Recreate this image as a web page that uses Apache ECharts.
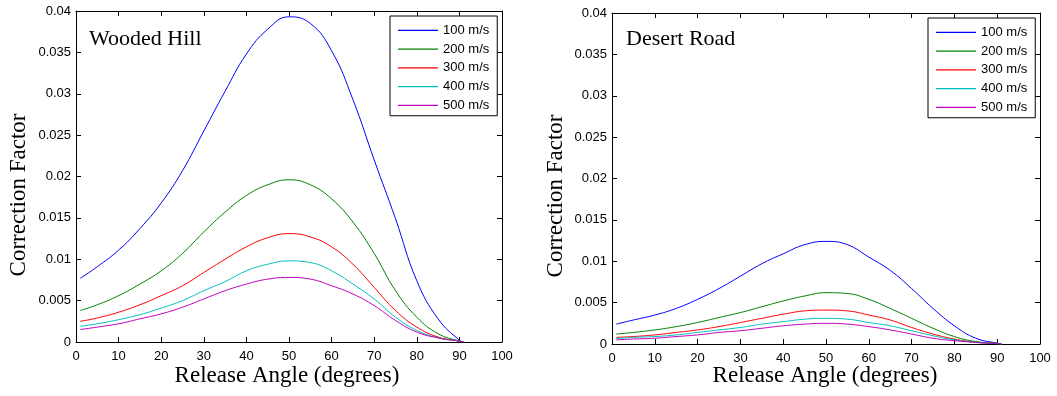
<!DOCTYPE html>
<html>
<head>
<meta charset="utf-8">
<script src="https://cdn.jsdelivr.net/npm/echarts@6/dist/echarts.min.js"></script>
<style>
html,body{margin:0;padding:0;background:#fff;}
#chart{width:1057px;height:396px;}
</style>
</head>
<body>
<div id="chart"></div>
<script>
// Release angle (degrees)
const angles = [1,5,10,15,20,25,30,35,40,45,50,55,60,65,70,75,80,85,90,91];
const speedNames = ['100 m/s','200 m/s','300 m/s','400 m/s','500 m/s'];
const xTicks = [0,10,20,30,40,50,60,70,80,90,100];
const yTicks = [0,0.005,0.01,0.015,0.02,0.025,0.03,0.035,0.04];

// Wooded Hill
const hill100 = [0.0077,0.0091,0.0111,0.0137,0.0168,0.0207,0.0255,0.0303,0.0348,0.0378,0.0393,0.0385,0.0352,0.0293,0.0220,0.0149,0.0074,0.0028,0.0002,0];
const hill200 = [0.0038,0.0045,0.0056,0.0070,0.0086,0.0107,0.0133,0.0157,0.0177,0.0190,0.0196,0.0190,0.0173,0.0145,0.0107,0.0062,0.0030,0.0010,0.0001,0];
const hill300 = [0.0025,0.0029,0.0036,0.0045,0.0056,0.0068,0.0084,0.0100,0.0115,0.0126,0.0131,0.0127,0.0115,0.0094,0.0066,0.0038,0.0018,0.0006,0.0001,0];
const hill400 = [0.0019,0.0022,0.0027,0.0033,0.0041,0.0050,0.0062,0.0073,0.0086,0.0094,0.0098,0.0096,0.0086,0.0070,0.0052,0.0030,0.0014,0.0005,0.0001,0];
const hill500 = [0.0015,0.0018,0.0022,0.0028,0.0034,0.0042,0.0052,0.0062,0.0070,0.0076,0.0078,0.0076,0.0068,0.0058,0.0044,0.0026,0.0012,0.0005,0.0001,0];

// Desert Road
const road100 = [0.0024,0.0029,0.0035,0.0043,0.0054,0.0067,0.0082,0.0097,0.0109,0.0120,0.0124,0.0120,0.0105,0.0089,0.0067,0.0043,0.0022,0.0007,0.0001,0];
const road200 = [0.0012,0.0014,0.0017,0.0021,0.0026,0.0032,0.0038,0.0045,0.0052,0.0058,0.0062,0.0061,0.0054,0.0043,0.0031,0.0019,0.0009,0.0003,0.0001,0];
const road300 = [0.0008,0.0009,0.0011,0.0014,0.0017,0.0021,0.0026,0.0031,0.0036,0.0040,0.0041,0.0040,0.0035,0.0029,0.0020,0.0012,0.0006,0.0002,0.00005,0];
const road400 = [0.00065,0.0008,0.0009,0.0011,0.0014,0.0017,0.0020,0.0024,0.0027,0.0030,0.0031,0.0030,0.0026,0.0022,0.0016,0.0010,0.0005,0.0002,0.00004,0];
const road500 = [0.0005,0.0006,0.0007,0.0009,0.0011,0.0014,0.0016,0.0019,0.0022,0.0024,0.0025,0.0024,0.0021,0.0017,0.0012,0.0007,0.0004,0.0002,0.00003,0];

const colors = ['#0000ff','#008000','#ff0000','#00bfbf','#bf00bf'];
const hillSets = [hill100,hill200,hill300,hill400,hill500];
const roadSets = [road100,road200,road300,road400,road500];

const SANS = '"Liberation Sans", Arial, sans-serif';
const SERIF = '"Liberation Serif", "Times New Roman", serif';

function pairs(vals){ return angles.map((a,i)=>[a, vals[i]]); }

function xAx(grid, pos){
  return {
    type:'value', gridIndex:grid, position:pos, min:xTicks[0], max:xTicks[xTicks.length-1], interval:10,
    axisLine:{show:true, onZero:false, lineStyle:{color:'#000', width:1}},
    axisTick:{show:true, inside:true, length:5, lineStyle:{color:'#000'}},
    axisLabel:{show:pos==='bottom', color:'#000', fontFamily:SANS, fontSize:13, margin:8},
    splitLine:{show:false}
  };
}
function yAx(grid, pos){
  return {
    type:'value', gridIndex:grid, position:pos, min:0, max:yTicks[yTicks.length-1], interval:0.005,
    axisLine:{show:true, onZero:false, lineStyle:{color:'#000', width:1}},
    axisTick:{show:true, inside:true, length:5, lineStyle:{color:'#000'}},
    axisLabel:{show:pos==='left', color:'#000', fontFamily:SANS, fontSize:13, margin:5,
      formatter:function(v){ return String(+v.toFixed(4)); }},
    splitLine:{show:false}
  };
}

const series = [];
speedNames.forEach((n,i)=>{
  series.push({name:n, type:'line', xAxisIndex:0, yAxisIndex:0, data:pairs(hillSets[i]),
    symbol:'none', smooth:0.45, lineStyle:{width:1, color:colors[i]}, itemStyle:{color:colors[i]}, animation:false});
});
speedNames.forEach((n,i)=>{
  series.push({name:n, type:'line', xAxisIndex:2, yAxisIndex:2, data:pairs(roadSets[i]),
    symbol:'none', smooth:0.45, lineStyle:{width:1, color:colors[i]}, itemStyle:{color:colors[i]}, animation:false});
});

function legend(left, top){
  return {
    data:speedNames.map(n=>({name:n, icon:'rect'})), orient:'vertical', left:left, top:top,
    itemWidth:40, itemHeight:1.3, itemGap:0,
    padding:[5,8,1,8], borderColor:'#000', borderWidth:1, backgroundColor:'#fff',
    textStyle:{color:'#000', fontFamily:SANS, fontSize:13, lineHeight:18.75},
    selectedMode:false
  };
}

function txt(t, x, y, size, rot){
  return {type:'text', x:x, y:y, rotation:rot||0, z:100,
    style:{text:t, font:size+'px '+SERIF, fill:'#000', textAlign:'center', textVerticalAlign:'middle', align:'center', verticalAlign:'middle'}};
}
function ltxt(t, x, y, size){
  return {type:'text', x:x, y:y, z:100,
    style:{text:t, font:size+'px '+SERIF, fill:'#000', textAlign:'left', textVerticalAlign:'middle', align:'left', verticalAlign:'middle'}};
}

const chart = echarts.init(document.getElementById('chart'), null, {renderer:'canvas'});
chart.setOption({
  animation:false,
  backgroundColor:'#fff',
  grid:[
    {left:76, top:11, width:426, height:331, containLabel:false},
    {left:612, top:13, width:428, height:331, containLabel:false}
  ],
  xAxis:[xAx(0,'bottom'), xAx(0,'top'), xAx(1,'bottom'), xAx(1,'top')],
  yAxis:[yAx(0,'left'), yAx(0,'right'), yAx(1,'left'), yAx(1,'right')],
  legend:[legend(390,16), legend(928,18)],
  series:series,
  graphic:[
    ltxt('Wooded Hill', 89, 39, 22),
    ltxt('Desert Road', 626, 39, 22),
    txt('Correction Factor', 19, 195, 23, Math.PI/2),
    txt('Correction Factor', 556, 196, 23, Math.PI/2),
    txt('Release Angle (degrees)', 287, 376, 23),
    txt('Release Angle (degrees)', 825, 376, 23)
  ]
});
</script>
</body>
</html>
